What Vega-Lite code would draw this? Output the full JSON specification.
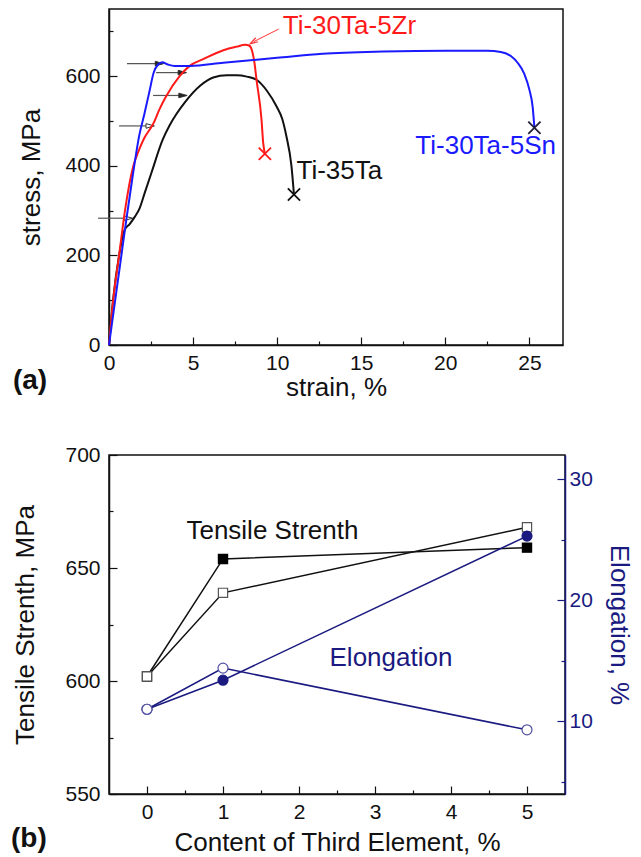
{
  "$schema": "https://vega.github.io/schema/vega-lite/v6.json",
  "padding": {"left": 10, "top": 8, "right": 5, "bottom": 3},
  "spacing": 110,
  "bounds": "flush",
  "datasets": {
    "curves": [
      {"alloy": "Ti-35Ta", "strain": 0, "stress": 0},
      {"alloy": "Ti-35Ta", "strain": 0.24, "stress": 100},
      {"alloy": "Ti-35Ta", "strain": 0.6, "stress": 200},
      {"alloy": "Ti-35Ta", "strain": 0.93, "stress": 257},
      {"alloy": "Ti-35Ta", "strain": 1.23, "stress": 270},
      {"alloy": "Ti-35Ta", "strain": 1.53, "stress": 286},
      {"alloy": "Ti-35Ta", "strain": 1.82, "stress": 305},
      {"alloy": "Ti-35Ta", "strain": 2.12, "stress": 339},
      {"alloy": "Ti-35Ta", "strain": 2.52, "stress": 384},
      {"alloy": "Ti-35Ta", "strain": 3.2, "stress": 459},
      {"alloy": "Ti-35Ta", "strain": 3.6, "stress": 490},
      {"alloy": "Ti-35Ta", "strain": 4.0, "stress": 515},
      {"alloy": "Ti-35Ta", "strain": 4.5, "stress": 541},
      {"alloy": "Ti-35Ta", "strain": 5.4, "stress": 578},
      {"alloy": "Ti-35Ta", "strain": 6.2, "stress": 597},
      {"alloy": "Ti-35Ta", "strain": 7.0, "stress": 602},
      {"alloy": "Ti-35Ta", "strain": 7.6, "stress": 602},
      {"alloy": "Ti-35Ta", "strain": 8.2, "stress": 599},
      {"alloy": "Ti-35Ta", "strain": 8.77, "stress": 592},
      {"alloy": "Ti-35Ta", "strain": 9.4, "stress": 567},
      {"alloy": "Ti-35Ta", "strain": 9.96, "stress": 533},
      {"alloy": "Ti-35Ta", "strain": 10.3, "stress": 505},
      {"alloy": "Ti-35Ta", "strain": 10.55, "stress": 466},
      {"alloy": "Ti-35Ta", "strain": 10.85, "stress": 400},
      {"alloy": "Ti-35Ta", "strain": 11.0, "stress": 336},
      {"alloy": "Ti-30Ta-5Zr", "strain": 0, "stress": 0},
      {"alloy": "Ti-30Ta-5Zr", "strain": 0.25, "stress": 100},
      {"alloy": "Ti-30Ta-5Zr", "strain": 0.6, "stress": 200},
      {"alloy": "Ti-30Ta-5Zr", "strain": 0.95, "stress": 300},
      {"alloy": "Ti-30Ta-5Zr", "strain": 1.45, "stress": 400},
      {"alloy": "Ti-30Ta-5Zr", "strain": 1.75, "stress": 432},
      {"alloy": "Ti-30Ta-5Zr", "strain": 2.1, "stress": 462},
      {"alloy": "Ti-30Ta-5Zr", "strain": 2.42, "stress": 481},
      {"alloy": "Ti-30Ta-5Zr", "strain": 2.62, "stress": 493},
      {"alloy": "Ti-30Ta-5Zr", "strain": 3.0, "stress": 526},
      {"alloy": "Ti-30Ta-5Zr", "strain": 3.4, "stress": 555},
      {"alloy": "Ti-30Ta-5Zr", "strain": 4.2, "stress": 600},
      {"alloy": "Ti-30Ta-5Zr", "strain": 4.8, "stress": 623},
      {"alloy": "Ti-30Ta-5Zr", "strain": 5.6, "stress": 638},
      {"alloy": "Ti-30Ta-5Zr", "strain": 6.8, "stress": 658},
      {"alloy": "Ti-30Ta-5Zr", "strain": 7.6, "stress": 666},
      {"alloy": "Ti-30Ta-5Zr", "strain": 8.1, "stress": 670},
      {"alloy": "Ti-30Ta-5Zr", "strain": 8.35, "stress": 668},
      {"alloy": "Ti-30Ta-5Zr", "strain": 8.5, "stress": 658},
      {"alloy": "Ti-30Ta-5Zr", "strain": 8.65, "stress": 630},
      {"alloy": "Ti-30Ta-5Zr", "strain": 8.77, "stress": 593},
      {"alloy": "Ti-30Ta-5Zr", "strain": 9.07, "stress": 503},
      {"alloy": "Ti-30Ta-5Zr", "strain": 9.17, "stress": 451},
      {"alloy": "Ti-30Ta-5Zr", "strain": 9.27, "stress": 427},
      {"alloy": "Ti-30Ta-5Sn", "strain": 0, "stress": 0},
      {"alloy": "Ti-30Ta-5Sn", "strain": 0.35, "stress": 95},
      {"alloy": "Ti-30Ta-5Sn", "strain": 0.7, "stress": 190},
      {"alloy": "Ti-30Ta-5Sn", "strain": 1.05, "stress": 285},
      {"alloy": "Ti-30Ta-5Sn", "strain": 1.4, "stress": 375},
      {"alloy": "Ti-30Ta-5Sn", "strain": 1.8, "stress": 468},
      {"alloy": "Ti-30Ta-5Sn", "strain": 2.1, "stress": 515},
      {"alloy": "Ti-30Ta-5Sn", "strain": 2.4, "stress": 565},
      {"alloy": "Ti-30Ta-5Sn", "strain": 2.65, "stress": 607},
      {"alloy": "Ti-30Ta-5Sn", "strain": 2.92, "stress": 626},
      {"alloy": "Ti-30Ta-5Sn", "strain": 3.17, "stress": 631},
      {"alloy": "Ti-30Ta-5Sn", "strain": 3.51, "stress": 626},
      {"alloy": "Ti-30Ta-5Sn", "strain": 3.9, "stress": 623},
      {"alloy": "Ti-30Ta-5Sn", "strain": 4.8, "stress": 623},
      {"alloy": "Ti-30Ta-5Sn", "strain": 6.8, "stress": 630},
      {"alloy": "Ti-30Ta-5Sn", "strain": 10, "stress": 641},
      {"alloy": "Ti-30Ta-5Sn", "strain": 12.7, "stress": 650},
      {"alloy": "Ti-30Ta-5Sn", "strain": 16.3, "stress": 655},
      {"alloy": "Ti-30Ta-5Sn", "strain": 20, "stress": 657},
      {"alloy": "Ti-30Ta-5Sn", "strain": 22.5, "stress": 657},
      {"alloy": "Ti-30Ta-5Sn", "strain": 23.3, "stress": 654},
      {"alloy": "Ti-30Ta-5Sn", "strain": 23.9, "stress": 645},
      {"alloy": "Ti-30Ta-5Sn", "strain": 24.3, "stress": 630},
      {"alloy": "Ti-30Ta-5Sn", "strain": 24.7, "stress": 605},
      {"alloy": "Ti-30Ta-5Sn", "strain": 25.0, "stress": 570},
      {"alloy": "Ti-30Ta-5Sn", "strain": 25.2, "stress": 530},
      {"alloy": "Ti-30Ta-5Sn", "strain": 25.3, "stress": 485}
    ],
    "ends": [
      {"alloy": "Ti-35Ta", "strain": 11.0, "stress": 336},
      {"alloy": "Ti-30Ta-5Zr", "strain": 9.27, "stress": 427},
      {"alloy": "Ti-30Ta-5Sn", "strain": 25.3, "stress": 485}
    ],
    "labels": [
      {"alloy": "Ti-30Ta-5Zr", "strain": 14.3, "stress": 712},
      {"alloy": "Ti-35Ta", "strain": 13.7, "stress": 389},
      {"alloy": "Ti-30Ta-5Sn", "strain": 22.4, "stress": 444}
    ],
    "arrows": [
      {"tail": 1.07, "strain": 3.0, "stress": 628, "head": "filled"},
      {"tail": 2.8, "strain": 4.36, "stress": 608, "head": "filled"},
      {"tail": 2.62, "strain": 4.4, "stress": 557, "head": "filled"},
      {"tail": 0.6, "strain": 2.45, "stress": 489, "head": "open"},
      {"tail": -0.65, "strain": 1.15, "stress": 283, "head": "open"}
    ],
    "pointer": [
      {"tailStrain": 10.08, "tailStress": 705, "strain": 8.6, "stress": 677}
    ],
    "tensile": [
      {"content": 0, "ts": 602, "state": "filled"},
      {"content": 1, "ts": 654, "state": "filled"},
      {"content": 5, "ts": 659, "state": "filled"},
      {"content": 0, "ts": 602, "state": "open"},
      {"content": 1, "ts": 639, "state": "open"},
      {"content": 5, "ts": 668, "state": "open"}
    ],
    "elong": [
      {"content": 0, "el": 11.0, "state": "filled"},
      {"content": 1, "el": 13.4, "state": "filled"},
      {"content": 5, "el": 25.3, "state": "filled"},
      {"content": 0, "el": 11.0, "state": "open"},
      {"content": 1, "el": 14.4, "state": "open"},
      {"content": 5, "el": 9.3, "state": "open"}
    ],
    "tensileLabel": [{"content": 1.65, "ts": 666.4, "label": "Tensile Strenth"}],
    "elongLabel": [{"content": 3.21, "el": 15.2, "label": "Elongation"}]
  },
  "vconcat": [
    {
      "width": 454,
      "height": 336,
      "title": {"text": "(a)", "orient": "bottom", "anchor": "start", "frame": "bounds", "fontSize": 28, "fontWeight": "bold", "color": "#111", "offset": 0, "dx": -6, "dy": -33},
      "encoding": {
        "x": {"field": "strain", "type": "quantitative", "title": "strain, %",
          "scale": {"domain": [0, 27], "nice": false, "zero": false},
          "axis": {"values": [0, 2.5, 5, 7.5, 10, 12.5, 15, 17.5, 20, 22.5, 25], "labelExpr": "datum.value % 5 === 0 ? '' + datum.value : ''",
            "tickSize": {"condition": {"test": "datum.value % 5 === 0", "value": -8}, "value": -4},
            "labelPadding": 15, "titlePadding": -3, "labelFlush": false, "labelOverlap": false}},
        "y": {"field": "stress", "type": "quantitative", "title": "stress, MPa",
          "scale": {"domain": [0, 750], "nice": false, "zero": false},
          "axis": {"values": [0, 100, 200, 300, 400, 500, 600, 700], "labelExpr": "datum.value % 200 === 0 ? '' + datum.value : ''",
            "tickSize": {"condition": {"test": "datum.value % 200 === 0", "value": -8}, "value": -4},
            "labelPadding": 17, "titlePadding": 20, "labelFlush": false, "labelOverlap": false}}
      },
      "layer": [
        {"data": {"name": "arrows"}, "mark": {"type": "rule", "color": "#555", "strokeWidth": 1.2},
          "encoding": {"x2": {"field": "tail"}}},
        {"data": {"name": "arrows"}, "mark": {"type": "point", "shape": "M-1,-0.55L1,0L-1,0.55Z", "size": 70, "filled": true, "opacity": 1, "stroke": "#333", "strokeWidth": 1},
          "encoding": {"fill": {"condition": {"test": "datum.head === 'filled'", "value": "#222"}, "value": "white"}}},
        {"data": {"name": "curves"}, "mark": {"type": "line", "strokeWidth": 2, "interpolate": "monotone"},
          "encoding": {"color": {"field": "alloy", "type": "nominal", "legend": null,
            "scale": {"domain": ["Ti-35Ta", "Ti-30Ta-5Zr", "Ti-30Ta-5Sn"], "range": ["#111111", "#ff1a1a", "#1a1aff"]}}}},
        {"data": {"name": "ends"}, "mark": {"type": "point", "shape": "M-1,-1L1,1M-1,1L1,-1", "size": 150, "filled": false, "opacity": 1, "strokeWidth": 1.8},
          "encoding": {"stroke": {"field": "alloy", "type": "nominal", "legend": null,
            "scale": {"domain": ["Ti-35Ta", "Ti-30Ta-5Zr", "Ti-30Ta-5Sn"], "range": ["#111111", "#ff1a1a", "#22223a"]}}}},
        {"data": {"name": "pointer"}, "mark": {"type": "rule", "color": "#ff3333", "strokeWidth": 1},
          "encoding": {"x2": {"field": "tailStrain"}, "y2": {"field": "tailStress"}}},
        {"data": {"name": "pointer"}, "mark": {"type": "point", "shape": "M-1,-0.6L1,0L-1,0.6", "size": 60, "filled": false, "opacity": 1, "stroke": "#ff3333", "strokeWidth": 1.2, "angle": 150},
          "encoding": {}},
        {"data": {"name": "labels"}, "mark": {"type": "text", "fontSize": 26, "align": "center", "baseline": "middle"},
          "encoding": {"text": {"field": "alloy"}, "color": {"field": "alloy", "type": "nominal", "legend": null,
            "scale": {"domain": ["Ti-35Ta", "Ti-30Ta-5Zr", "Ti-30Ta-5Sn"], "range": ["#111111", "#ff1a1a", "#1a1aff"]}}}}
      ]
    },
    {
      "width": 456,
      "height": 339,
      "title": {"text": "(b)", "orient": "bottom", "anchor": "start", "frame": "bounds", "fontSize": 28, "fontWeight": "bold", "color": "#111", "offset": 0, "dx": -2, "dy": -30},
      "encoding": {
        "x": {"field": "content", "type": "quantitative", "title": "Content of Third Element, %",
          "scale": {"domain": [-0.5, 5.5], "nice": false, "zero": false},
          "axis": {"values": [0, 0.5, 1, 1.5, 2, 2.5, 3, 3.5, 4, 4.5, 5], "labelExpr": "datum.value % 1 === 0 ? '' + datum.value : ''",
            "tickSize": {"condition": {"test": "datum.value % 1 === 0", "value": -8}, "value": -4},
            "labelPadding": 15, "titlePadding": 3, "labelFlush": false, "labelOverlap": false}}
      },
      "layer": [
        {
          "encoding": {"y": {"field": "ts", "type": "quantitative", "title": "Tensile Strenth, MPa",
            "scale": {"domain": [550, 700], "nice": false, "zero": false},
            "axis": {"values": [550, 575, 600, 625, 650, 675, 700], "labelExpr": "datum.value % 50 === 0 ? '' + datum.value : ''",
              "tickSize": {"condition": {"test": "datum.value % 50 === 0", "value": -8}, "value": -4},
              "labelPadding": 17, "titlePadding": 26, "labelFlush": false, "labelOverlap": false}}},
          "layer": [
            {"data": {"name": "tensile"}, "mark": {"type": "line", "color": "#111", "strokeWidth": 1.5},
              "encoding": {"detail": {"field": "state"}}},
            {"data": {"name": "tensile"}, "mark": {"type": "point", "shape": "square", "size": 85, "filled": true, "opacity": 1, "strokeWidth": 1.2},
              "encoding": {"fill": {"condition": {"test": "datum.state === 'filled'", "value": "#000"}, "value": "white"},
                "stroke": {"condition": {"test": "datum.state === 'filled'", "value": "#000"}, "value": "#555"}}},
            {"data": {"name": "tensileLabel"}, "mark": {"type": "text", "fontSize": 26, "color": "#111", "align": "center", "baseline": "middle"},
              "encoding": {"text": {"field": "label"}}}
          ]
        },
        {
          "encoding": {"y": {"field": "el", "type": "quantitative", "title": "Elongation, %",
            "scale": {"domain": [4, 32], "nice": false, "zero": false},
            "axis": {"orient": "right", "values": [5, 10, 15, 20, 25, 30], "labelExpr": "datum.value % 10 === 0 ? '' + datum.value : ''",
              "tickSize": {"condition": {"test": "datum.value % 10 === 0", "value": -8}, "value": -4},
              "labelPadding": 12, "titlePadding": 13, "labelFlush": false, "labelOverlap": false,
              "domainColor": "#1a1a80", "tickColor": "#1a1a80", "labelColor": "#1a1a80", "titleColor": "#1a1a80"}}},
          "layer": [
            {"data": {"name": "elong"}, "mark": {"type": "line", "color": "#1a1a80", "strokeWidth": 1.5},
              "encoding": {"detail": {"field": "state"}}},
            {"data": {"name": "elong"}, "mark": {"type": "point", "shape": "circle", "size": 100, "filled": true, "opacity": 1, "strokeWidth": 1.2},
              "encoding": {"fill": {"condition": {"test": "datum.state === 'filled'", "value": "#1a1a80"}, "value": "white"},
                "stroke": {"condition": {"test": "datum.state === 'filled'", "value": "#1a1a80"}, "value": "#5050a0"}}},
            {"data": {"name": "elongLabel"}, "mark": {"type": "text", "fontSize": 26, "color": "#1a1a80", "align": "center", "baseline": "middle"},
              "encoding": {"text": {"field": "label"}}}
          ]
        }
      ],
      "resolve": {"scale": {"y": "independent"}}
    }
  ],
  "config": {
    "font": "Liberation Sans",
    "view": {"stroke": "#111", "strokeWidth": 1.5},
    "axis": {"grid": false, "domainColor": "#111", "domainWidth": 1.5, "tickColor": "#111", "tickWidth": 1.2,
      "labelFont": "Liberation Sans", "labelFontSize": 21, "labelColor": "#111",
      "titleFont": "Liberation Sans", "titleFontSize": 26, "titleFontWeight": "normal", "titleColor": "#111"},
    "title": {"font": "Liberation Sans"}
  }
}
